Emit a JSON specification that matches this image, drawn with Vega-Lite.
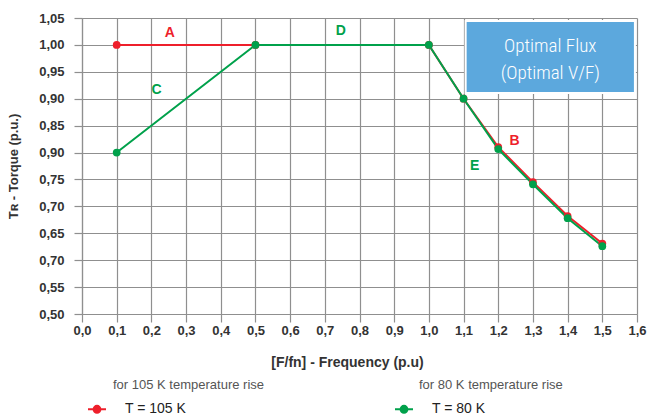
{
  "$schema": "https://vega.github.io/schema/vega-lite/v6.json",
  "width": 555,
  "height": 296,
  "autosize": {"type": "none"},
  "padding": {"left": 82, "top": 18, "right": 14, "bottom": 102},
  "background": "white",
  "config": {
    "view": {"stroke": null},
    "font": "Liberation Sans",
    "axis": {
      "gridColor": "#8f8f8f", "gridOpacity": 1, "gridWidth": 1.2,
      "domainColor": "#8f8f8f", "tickColor": "#8f8f8f", "tickSize": 8, "tickWidth": 1.2, "domainWidth": 1.2,
      "labelOverlap": false, "labelFlush": false,
      "labelFont": "Liberation Sans", "labelFontSize": 13, "labelColor": "#333333", "labelFontWeight": "bold",
      "titleFont": "Liberation Sans", "titleColor": "#333333", "titleFontWeight": "bold"
    },
    "legend": {"labelFont": "Liberation Sans"}
  },
  "datasets": {
    "curves": [
      {"f": 0.1, "t": 1.0, "s": "T = 105 K", "d": "for 105 K temperature rise"},
      {"f": 0.5, "t": 1.0, "s": "T = 105 K", "d": "for 105 K temperature rise"},
      {"f": 1.0, "t": 1.0, "s": "T = 105 K", "d": "for 105 K temperature rise"},
      {"f": 1.1, "t": 0.9, "s": "T = 105 K", "d": "for 105 K temperature rise"},
      {"f": 1.2, "t": 0.81, "s": "T = 105 K", "d": "for 105 K temperature rise"},
      {"f": 1.3, "t": 0.745, "s": "T = 105 K", "d": "for 105 K temperature rise"},
      {"f": 1.4, "t": 0.682, "s": "T = 105 K", "d": "for 105 K temperature rise"},
      {"f": 1.5, "t": 0.631, "s": "T = 105 K", "d": "for 105 K temperature rise"},
      {"f": 0.1, "t": 0.8, "s": "T = 80 K", "d": "for 80 K temperature rise"},
      {"f": 0.5, "t": 1.0, "s": "T = 80 K", "d": "for 80 K temperature rise"},
      {"f": 1.0, "t": 1.0, "s": "T = 80 K", "d": "for 80 K temperature rise"},
      {"f": 1.1, "t": 0.9, "s": "T = 80 K", "d": "for 80 K temperature rise"},
      {"f": 1.2, "t": 0.8065, "s": "T = 80 K", "d": "for 80 K temperature rise"},
      {"f": 1.3, "t": 0.741, "s": "T = 80 K", "d": "for 80 K temperature rise"},
      {"f": 1.4, "t": 0.678, "s": "T = 80 K", "d": "for 80 K temperature rise"},
      {"f": 1.5, "t": 0.626, "s": "T = 80 K", "d": "for 80 K temperature rise"}
    ],
    "letters": [
      {"label": "A", "f": 0.253, "t": 1.022, "s": "T = 105 K"},
      {"label": "B", "f": 1.247, "t": 0.821, "s": "T = 105 K"},
      {"label": "C", "f": 0.215, "t": 0.916, "s": "T = 80 K"},
      {"label": "D", "f": 0.746, "t": 1.026, "s": "T = 80 K"},
      {"label": "E", "f": 1.132, "t": 0.775, "s": "T = 80 K"}
    ],
    "box": [
      {"f": 1.106, "f2": 1.594, "t": 0.9106, "t2": 1.0444}
    ],
    "boxtext": [
      {"f": 1.35, "t": 0.998, "txt": "Optimal Flux\n(Optimal V/F)"}
    ]
  },
  "encoding": {
    "x": {
      "field": "f", "type": "quantitative",
      "scale": {"domain": [0, 1.6], "nice": false, "zero": false},
      "axis": {
        "values": [0, 0.1, 0.2, 0.3, 0.4, 0.5, 0.6, 0.7, 0.8, 0.9, 1.0, 1.1, 1.2, 1.3, 1.4, 1.5, 1.6],
        "tickCount": 17,
        "labelExpr": "replace(format(datum.value, '.1f'), '.', ',')",
        "title": "[F/fn] - Frequency (p.u)", "titleFontSize": 14, "titlePadding": 18, "labelPadding": 2,
        "titleX": 265, "titleAnchor": "start", "titleAlign": "center"
      }
    },
    "y": {
      "field": "t", "type": "quantitative",
      "scale": {"domain": [0.5, 1.05], "nice": false, "zero": false},
      "axis": {
        "values": [0.5, 0.55, 0.6, 0.65, 0.7, 0.75, 0.8, 0.85, 0.9, 0.95, 1.0, 1.05],
        "tickCount": 12,
        "labelExpr": "round(datum.value*100) == 80 ? '0,90' : round(datum.value*100) == 60 ? '0,70' : replace(format(datum.value, '.2f'), '.', ',')",
        "title": "Tʀ - Torque (p.u.)", "titleFontSize": 13, "titlePadding": 18, "labelPadding": 10
      }
    }
  },
  "layer": [
    {
      "data": {"name": "curves"},
      "mark": {"type": "line", "strokeWidth": 2},
      "encoding": {
        "color": {
          "field": "s", "type": "nominal",
          "scale": {"domain": ["T = 105 K", "T = 80 K"], "range": ["#ee1f2b", "#00a14b"]},
          "legend": {
            "title": null, "orient": "none", "legendX": 5, "legendY": 381, "direction": "horizontal", "columns": 2,
            "columnPadding": 204, "labelFontSize": 14, "labelColor": "#222222", "labelOffset": 18,
            "symbolType": "M-1,0H1M-0.38,0A0.38,0.38 0 1,0 0.38,0A0.38,0.38 0 1,0 -0.38,0Z",
            "symbolSize": 324, "symbolStrokeWidth": 2
          }
        }
      }
    },
    {
      "data": {"name": "curves"},
      "mark": {"type": "point", "filled": true, "size": 60, "opacity": 1},
      "encoding": {
        "color": {"field": "s", "type": "nominal"},
        "opacity": {
          "field": "d", "type": "nominal",
          "scale": {"domain": ["for 105 K temperature rise", "for 80 K temperature rise"], "range": [1, 1]},
          "legend": {
            "title": null, "orient": "none", "legendX": 18, "legendY": 360, "direction": "horizontal", "columns": 2,
            "columnPadding": 141, "labelFontSize": 13, "labelColor": "#555555", "labelOffset": 0,
            "symbolOpacity": 0, "symbolSize": 0, "symbolStrokeWidth": 0
          }
        }
      }
    },
    {
      "data": {"name": "box"},
      "mark": {"type": "rect", "color": "#5ca8dd", "stroke": "white", "strokeWidth": 2},
      "encoding": {
        "x2": {"field": "f2"},
        "y2": {"field": "t2"}
      }
    },
    {
      "data": {"name": "boxtext"},
      "mark": {"type": "text", "color": "white", "font": "Roboto Condensed, Liberation Sans Narrow, Roboto", "fontSize": 19, "fontWeight": 300, "lineBreak": "\n", "lineHeight": 27, "align": "center", "baseline": "middle"},
      "encoding": {
        "text": {"field": "txt"}
      }
    },
    {
      "data": {"name": "letters"},
      "transform": [{"filter": "datum.s == 'T = 105 K'"}],
      "mark": {"type": "text", "color": "#ee1f2b", "fontSize": 14, "fontWeight": "bold", "align": "center", "baseline": "middle"},
      "encoding": {
        "text": {"field": "label"}
      }
    },
    {
      "data": {"name": "letters"},
      "transform": [{"filter": "datum.s == 'T = 80 K'"}],
      "mark": {"type": "text", "color": "#00a14b", "fontSize": 14, "fontWeight": "bold", "align": "center", "baseline": "middle"},
      "encoding": {
        "text": {"field": "label"}
      }
    }
  ]
}
